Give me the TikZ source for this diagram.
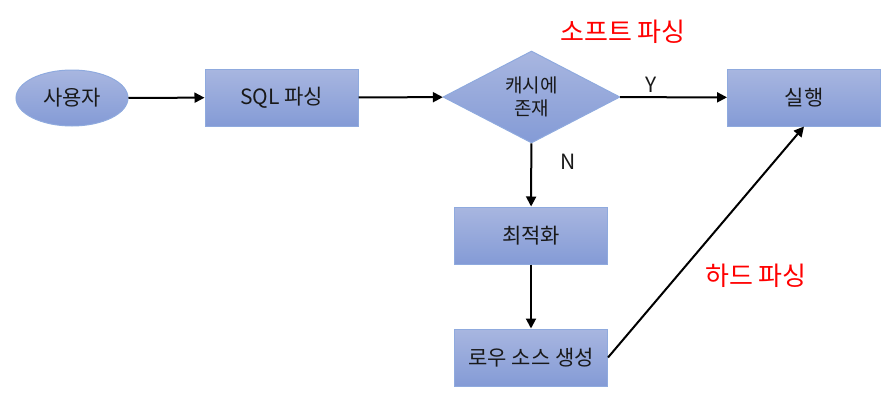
\documentclass[tikz,border=0pt]{standalone}
\usepackage{fontspec}
\setmainfont{Noto Sans CJK KR}
\usetikzlibrary{shapes.geometric,arrows.meta}
\definecolor{boxtop}{RGB}{168,182,224}
\definecolor{boxbot}{RGB}{132,155,214}
\definecolor{boxline}{RGB}{143,170,222}
\begin{document}
\begin{tikzpicture}[x=1pt,y=-1pt,
  shapebase/.style={draw=boxline, line width=1pt, top color=boxtop, bottom color=boxbot, font=\fontsize{21}{24}\selectfont, text=black!90, inner sep=0pt},
  procbox/.style={shapebase, rectangle, minimum width=153pt, minimum height=57pt},
  oval/.style={shapebase, ellipse, minimum width=112pt, minimum height=56pt},
  decision/.style={shapebase, diamond, minimum width=177pt, minimum height=92pt, aspect=1.92, font=\fontsize{19}{23}\selectfont, align=center},
  conn/.style={line width=2pt, -{Triangle[length=10pt,width=10pt]}},
  redlbl/.style={text=red, font=\fontsize{26}{30}\selectfont},
  yn/.style={font=\fontsize{21}{24}\selectfont, text=black!90}]
\useasboundingbox (0,0) rectangle (894,399);
\node[oval] (user) at (72,98) {사용자};
\node[procbox] (sql) at (281.5,97.5) {SQL 파싱};
\node[decision] (cache) at (531.5,97) {캐시에\\존재};
\node[procbox] (exec) at (804,97.5) {실행};
\node[procbox] (opt) at (531,235.5) {최적화};
\node[procbox] (row) at (531,357.5) {로우 소스 생성};
\draw[conn] (user) -- (sql);
\draw[conn] (sql) -- (cache);
\draw[conn] (cache) -- (exec);
\draw[conn] (cache) -- (opt);
\draw[conn] (opt) -- (row);
\draw[conn] (row.east) -- (exec.south);
\node[yn] (ylbl) at (651,85) {Y};
\node[yn] (nlbl) at (568,162) {N};
\node[redlbl] (soft) at (623,32) {소프트 파싱};
\node[redlbl] (hard) at (756,276) {하드 파싱};
\end{tikzpicture}
\end{document}
